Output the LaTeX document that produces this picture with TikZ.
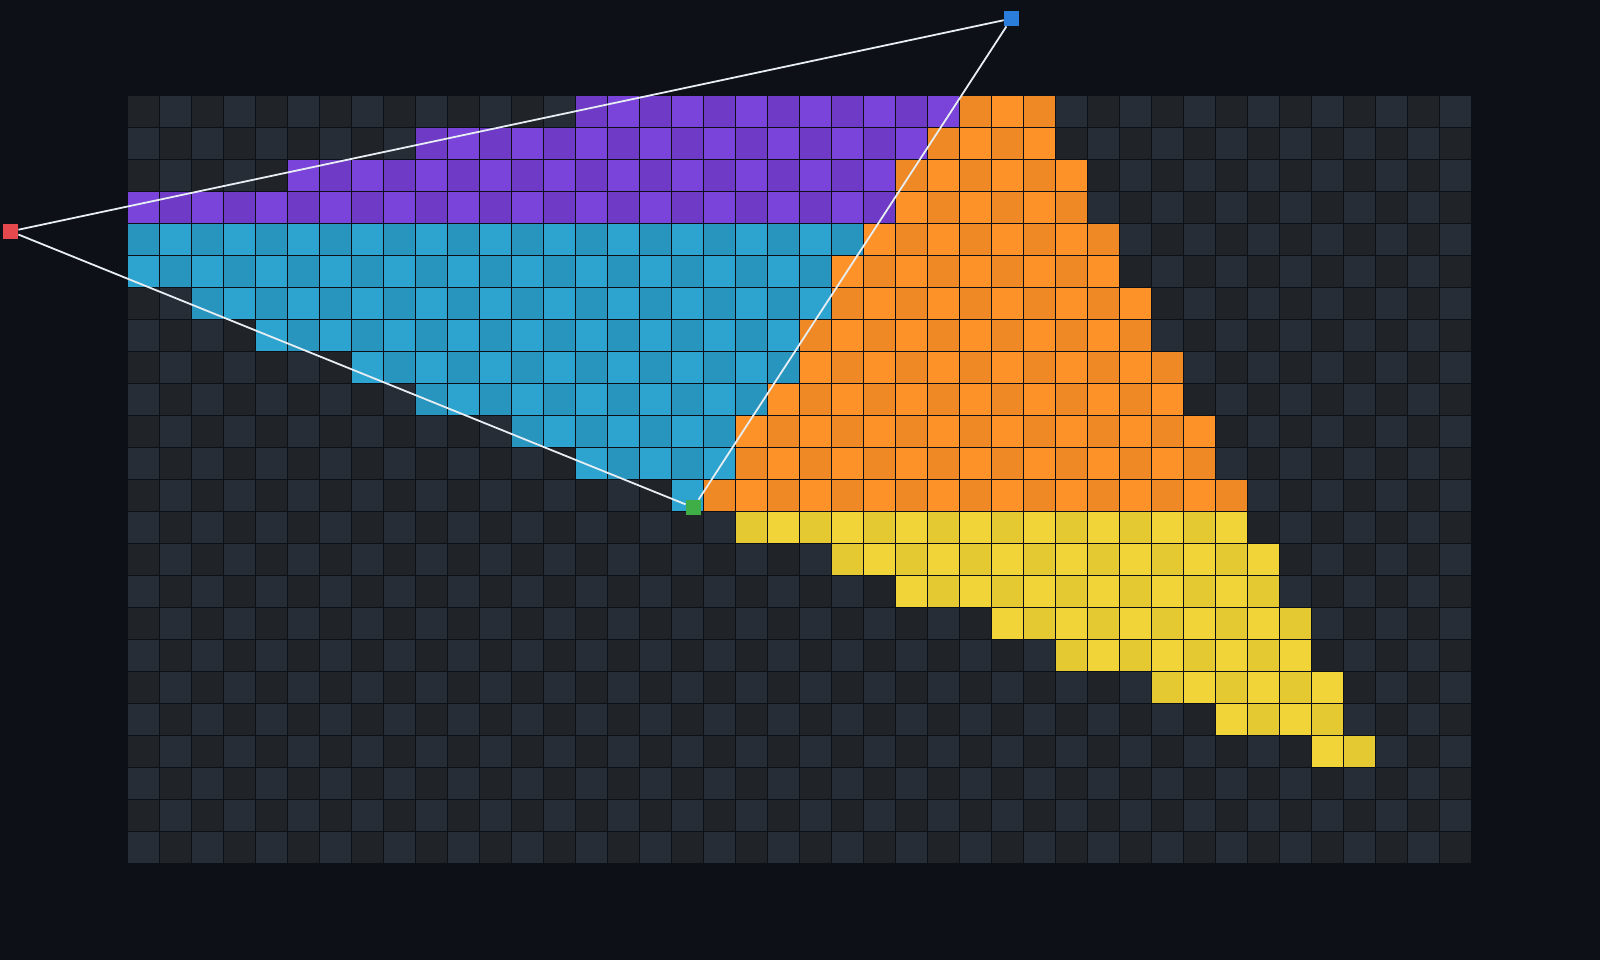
\documentclass[tikz,border=0pt]{standalone}
\usepackage{xcolor}
\usepackage{tikz}
\definecolor{pagebg}{HTML}{0D1117}
\definecolor{cell0}{HTML}{202328}
\definecolor{cell1}{HTML}{272D37}
\definecolor{purp0}{HTML}{6E3AC6}
\definecolor{purp1}{HTML}{7A43D9}
\definecolor{cyan0}{HTML}{2895BF}
\definecolor{cyan1}{HTML}{2CA4CF}
\definecolor{orng0}{HTML}{EF8926}
\definecolor{orng1}{HTML}{FD9229}
\definecolor{yelw0}{HTML}{E5C933}
\definecolor{yelw1}{HTML}{F1D437}
\definecolor{vtxred}{HTML}{E5484D}
\definecolor{vtxblue}{HTML}{2B7DDC}
\definecolor{vtxgreen}{HTML}{3FAE47}
\definecolor{edgewhite}{HTML}{E6EDF3}
\tikzset{
  vertex/.style={rectangle, minimum size=6.6pt, inner sep=0pt, draw=none},
  edge/.style={line width=0.8pt, edgewhite}
}

\begin{document}
\begin{tikzpicture}[x=0.5cm, y=-0.5cm]
  % Background
  \fill[pagebg] (-4,-3) rectangle (46,27);
  \useasboundingbox (-4,-3) rectangle (46,27);

  % Draw empty grid
  \foreach \r in {0,...,23} {
    \foreach \c in {0,...,41} {
      \pgfmathtruncatemacro\p{mod(\c+\r,2)}
      \fill[cell\p] (\c,\r) rectangle ++(0.97,0.97);
    }
  }

  % Draw filled spans (row/first/last/colour)
  \foreach \r/\a/\b/\col in {
      0/14/25/purp, 0/26/28/orng,
      1/9/24/purp, 1/25/28/orng,
      2/5/23/purp, 2/24/29/orng,
      3/0/23/purp, 3/24/29/orng,
      4/0/22/cyan, 4/23/30/orng,
      5/0/21/cyan, 5/22/30/orng,
      6/2/21/cyan, 6/22/31/orng,
      7/4/20/cyan, 7/21/31/orng,
      8/7/20/cyan, 8/21/32/orng,
      9/9/19/cyan, 9/20/32/orng,
      10/12/18/cyan, 10/19/33/orng,
      11/14/18/cyan, 11/19/33/orng,
      12/17/17/cyan, 12/18/34/orng,
      13/19/34/yelw, 14/22/35/yelw,
      15/24/35/yelw, 16/27/36/yelw,
      17/29/36/yelw, 18/32/37/yelw,
      19/34/37/yelw, 20/37/38/yelw} {
    \foreach \c in {\a,...,\b} {
      \pgfmathtruncatemacro\p{mod(\c+\r,2)}
      \fill[\col\p] (\c,\r) rectangle ++(0.97,0.97);
    }
  }

  % Triangle vertices
  \node[vertex, fill=vtxred] (va) at (-3.67,4.23) {};
  \node[vertex, fill=vtxblue] (vb) at (27.61,-2.42) {};
  \node[vertex, fill=vtxgreen] (vc) at (17.67,12.86) {};

  % Draw edges
  \draw[edge] (va) -- (vb);
  \draw[edge] (vb) -- (vc);
  \draw[edge] (vc) -- (va);
\end{tikzpicture}
\end{document}
